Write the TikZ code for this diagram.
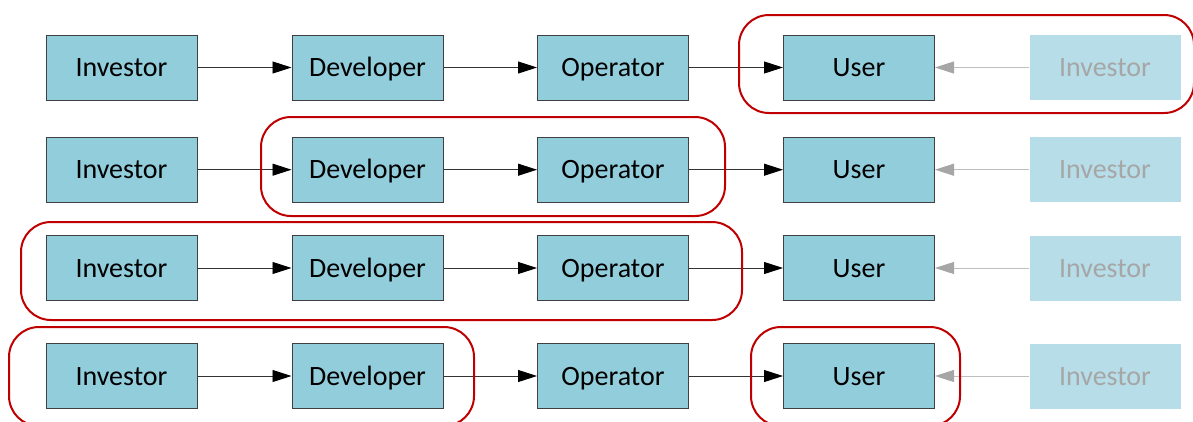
\documentclass[tikz,border=0pt]{standalone}
\usepackage{fontspec}
\setmainfont{Carlito}
\usetikzlibrary{arrows.meta}
\definecolor{boxfill}{HTML}{92CDDC}
\definecolor{fadefill}{HTML}{B6DDE8}
\definecolor{fadetext}{HTML}{A6A6A6}
\definecolor{fadeline}{HTML}{BFBFBF}
\definecolor{grpred}{HTML}{C00000}
\definecolor{boxline}{HTML}{404040}
\begin{document}
\begin{tikzpicture}[x=1pt,y=-1pt,
  base/.style={minimum width=151pt,minimum height=65pt,inner sep=0pt,font=\fontsize{28}{32}\selectfont,text height=18pt,text depth=0pt},
  box/.style={base,draw=boxline,line width=1pt,fill=boxfill,text=black},
  fadebox/.style={base,fill=fadefill,text=fadetext},
  flow/.style={draw=black!80,line width=0.9pt,-{Triangle[length=19pt,width=12pt,color=black,fill=black]}},
  fadeflow/.style={draw=fadeline,line width=1pt,-{Triangle[length=19pt,width=12pt,color=fadetext,fill=fadetext]}},
  group/.style={draw=grpred,line width=2pt,rounded corners=30pt}]
\useasboundingbox (0,0) rectangle (1193,421);
\foreach \r/\y in {1/67.5,2/169.7,3/268,4/376}{
  \node[box] (i\r) at (121.5,\y) {Investor};
  \node[box] (d\r) at (367.5,\y) {Developer};
  \node[box] (o\r) at (613,\y) {Operator};
  \node[box] (u\r) at (859,\y) {User};
  \node[fadebox] (f\r) at (1105,\y) {Investor};
  \draw[flow] (i\r) -- (d\r);
  \draw[flow] (d\r) -- (o\r);
  \draw[flow] (o\r) -- (u\r);
  \draw[fadeflow] (f\r) -- (u\r);
}
\draw[group] (739,15) rectangle (1194,113);
\draw[group] (261,117) rectangle (725,216);
\draw[group] (21,222) rectangle (742,320);
\draw[group] (9,327) rectangle (474,426);
\draw[group] (751,327) rectangle (960,426);
\end{tikzpicture}
\end{document}
